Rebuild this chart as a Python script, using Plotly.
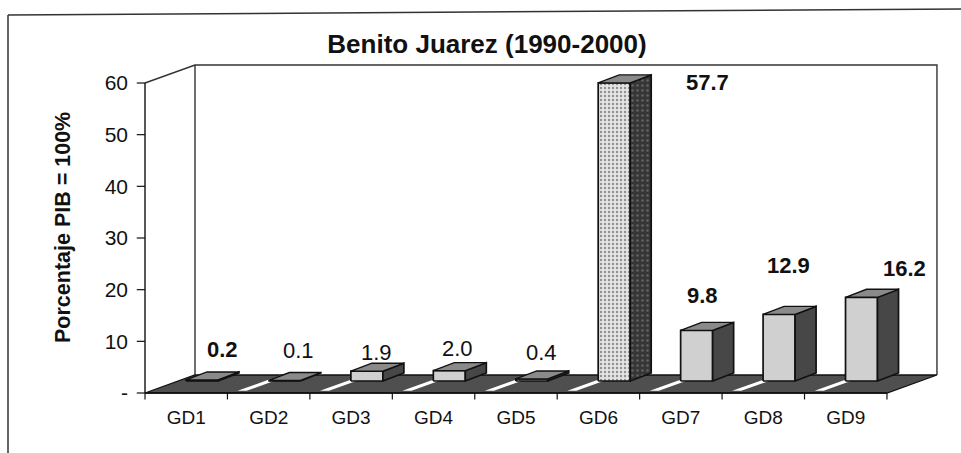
import plotly.graph_objects as go

# ---------------- data ----------------
categories = ["GD1", "GD2", "GD3", "GD4", "GD5", "GD6", "GD7", "GD8", "GD9"]
values = [0.2, 0.1, 1.9, 2.0, 0.4, 57.7, 9.8, 12.9, 16.2]
y_tick_values = [0, 10, 20, 30, 40, 50, 60]
y_tick_labels = ["-", "10", "20", "30", "40", "50", "60"]
title_text = "Benito Juarez (1990-2000)"
y_title_text = "Porcentaje PIB = 100%"

# ---------------- styles ----------------
label_bold = [True, False, False, False, False, True, True, True, True]
label_shift_px = [(77, 42), (71, 42), (67, 31), (65, 34), (67, 38),
                  (150, 12), (63, 47), (66, 61), (100, 41)]
patterned = [False, False, False, False, False, True, False, False, False]

FONT = "Liberation Sans, Arial, sans-serif"
W, H = 961, 453
ML, MR, MT, MB = 135, 15, 58, 53
PX_PER_CAT = 82.44
PX_PER_UNIT = 5.1667
X0_PX, Y0_PX = 145, 393

x_range = [(ML - X0_PX) / PX_PER_CAT, (W - MR - X0_PX) / PX_PER_CAT]
y_range = [(Y0_PX - (H - MB)) / PX_PER_UNIT, (Y0_PX - MT) / PX_PER_UNIT]

n = len(categories)
y_top = max(y_tick_values)
DEPTH_X = 50 / PX_PER_CAT
DEPTH_Y = 18 / PX_PER_UNIT
BAR_LEFT = 41 / PX_PER_CAT
BAR_W = 32 / PX_PER_CAT
BAR_DX = 21 / PX_PER_CAT
BAR_DY = 8 / PX_PER_UNIT
BAR_BASE = 12 / PX_PER_UNIT

C_FRONT = "#d0d0d0"
C_SIDE = "#474747"
C_TOP = "#8a8a8a"
C_FLOOR = "#4f4f4f"
C_EDGE = "#111111"
EDGE_W = 1.7

fig = go.Figure()


def poly(xs, ys, fill, line_w=1.0, line_c=C_EDGE, pattern=None):
    kw = {}
    if pattern is not None:
        kw["fillpattern"] = pattern
    fig.add_trace(go.Scatter(x=xs, y=ys, mode="lines", fill="toself",
                             fillcolor=fill, line=dict(color=line_c, width=line_w),
                             hoverinfo="skip", showlegend=False, **kw))


def lines(xs, ys, color="#222222", width=1.5):
    fig.add_trace(go.Scatter(x=xs, y=ys, mode="lines",
                             line=dict(color=color, width=width),
                             hoverinfo="skip", showlegend=False))


# walls (outline of the 3D box)
lines([0, DEPTH_X, n + DEPTH_X, n + DEPTH_X],
      [y_top, y_top + DEPTH_Y, y_top + DEPTH_Y, DEPTH_Y], color="#333333", width=1.4)
lines([DEPTH_X, DEPTH_X], [DEPTH_Y, y_top + DEPTH_Y], color="#333333", width=1.4)

# floor
poly([0, n, n + DEPTH_X, DEPTH_X, 0], [0, 0, DEPTH_Y, DEPTH_Y, 0], C_FLOOR, 1.3)
# white stripes between categories on the floor
sx, sy = [], []
t0, t1 = 0.12, 0.97
for i in range(1, n):
    a = i + 0.05
    b = i + 0.16
    sx += [a + DEPTH_X * t0, b + DEPTH_X * t0, b + DEPTH_X * t1, a + DEPTH_X * t1,
           a + DEPTH_X * t0, None]
    sy += [DEPTH_Y * t0, DEPTH_Y * t0, DEPTH_Y * t1, DEPTH_Y * t1, DEPTH_Y * t0, None]
fig.add_trace(go.Scatter(x=sx, y=sy, mode="lines", fill="toself", fillcolor="#ffffff",
                         line=dict(width=0, color="rgba(0,0,0,0)"),
                         hoverinfo="skip", showlegend=False))

# bars
for i, v in enumerate(values):
    x0 = i + BAR_LEFT
    x1 = x0 + BAR_W
    y0 = BAR_BASE
    y1 = y0 + v
    if patterned[i]:
        pf = dict(shape=".", fgcolor="#3a3a3a", bgcolor="#e4e4e4", size=4, solidity=0.28)
        ps = dict(shape=".", fgcolor="#8f8f8f", bgcolor="#363636", size=5, solidity=0.2)
        poly([x0, x1, x1, x0, x0], [y0, y0, y1, y1, y0], "#e4e4e4", EDGE_W, pattern=pf)
        poly([x1, x1 + BAR_DX, x1 + BAR_DX, x1, x1],
             [y0, y0 + BAR_DY, y1 + BAR_DY, y1, y0], "#363636", EDGE_W, pattern=ps)
    else:
        poly([x0, x1, x1, x0, x0], [y0, y0, y1, y1, y0], C_FRONT, EDGE_W)
        poly([x1, x1 + BAR_DX, x1 + BAR_DX, x1, x1],
             [y0, y0 + BAR_DY, y1 + BAR_DY, y1, y0], C_SIDE, EDGE_W)
    poly([x0, x1, x1 + BAR_DX, x0 + BAR_DX, x0],
         [y1, y1, y1 + BAR_DY, y1 + BAR_DY, y1], C_TOP, 1.4)

# front axes
lines([0, 0], [0, y_top], color="#111111", width=1.4)
lines([0, n], [0, 0], color="#111111", width=1.6)
tx, ty = [], []
for v in y_tick_values:
    tx += [-0.1, 0, None]
    ty += [v, v, None]
for i in range(n + 1):
    tx += [i, i, None]
    ty += [0, -1.25, None]
lines(tx, ty, color="#111111", width=1.2)

# value labels
annotations = []
for i, v in enumerate(values):
    dx, dy = label_shift_px[i]
    txt = f"{v:.1f}"
    annotations.append(dict(
        x=i, y=v, xref="x", yref="y", text=txt, showarrow=False,
        xshift=dx, yshift=dy, xanchor="center", yanchor="middle",
        font=dict(family=FONT, size=22, color="#111111",
                  weight="bold" if label_bold[i] else "normal")))

PW = W - ML - MR
PH = H - MT - MB


def px_to_paper(px, py):
    return (px - ML) / PW, (H - MB - py) / PH


yt_x, yt_y = px_to_paper(63, 228)
annotations.append(dict(x=yt_x, y=yt_y, xref="paper", yref="paper", text=y_title_text,
                        showarrow=False, textangle=-90, xanchor="center", yanchor="middle",
                        font=dict(family=FONT, size=21.5, color="#111111", weight="bold")))

# page frame
fx0, fy0 = px_to_paper(8, 15)
fx1, fy1 = px_to_paper(961, 9)
fx2, fy2 = px_to_paper(8, 453)
shapes = [
    dict(type="line", xref="paper", yref="paper", x0=fx0, y0=fy0, x1=fx1, y1=fy1,
         line=dict(color="#333333", width=1.5)),
    dict(type="line", xref="paper", yref="paper", x0=fx0, y0=fy0, x1=fx2, y1=fy2,
         line=dict(color="#333333", width=1.5)),
]

fig.update_layout(
    width=W, height=H,
    margin=dict(l=ML, r=MR, t=MT, b=MB, pad=0),
    paper_bgcolor="white", plot_bgcolor="white",
    title=dict(text=title_text, x=487 / W, y=1 - 44 / H, xref="container", yref="container",
               xanchor="center", yanchor="middle",
               font=dict(family=FONT, size=26, color="#111111", weight="bold")),
    xaxis=dict(range=x_range, tickmode="array",
               tickvals=[i + 0.5 for i in range(n)], ticktext=categories,
               ticks="", showline=False, showgrid=False, zeroline=False,
               tickfont=dict(family=FONT, size=19, color="#111111"),
               ticklabelstandoff=4, automargin=False, fixedrange=True),
    yaxis=dict(range=y_range, tickmode="array", tickvals=y_tick_values,
               ticktext=y_tick_labels, ticks="", showline=False, showgrid=False,
               zeroline=False, tickfont=dict(family=FONT, size=21, color="#111111"),
               ticklabelstandoff=6, automargin=False, fixedrange=True),
    annotations=annotations,
    shapes=shapes,
)

fig.write_html("out.html", config={"displayModeBar": False},
               post_script="document.body.style.margin='0';document.body.style.padding='0';")
